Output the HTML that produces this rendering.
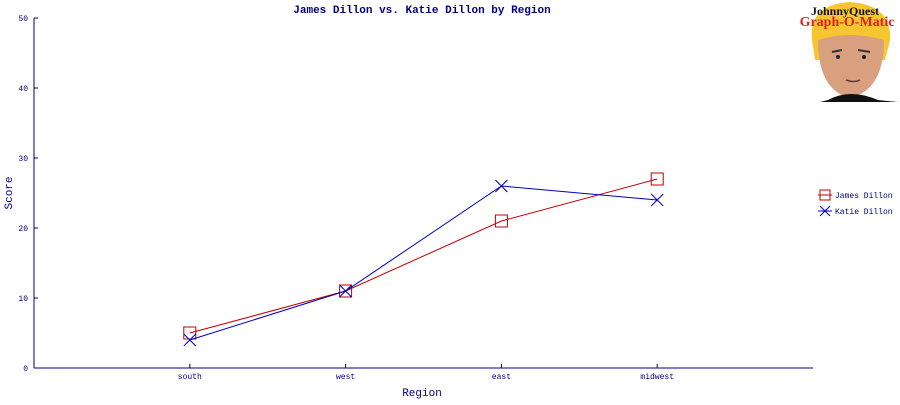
<!DOCTYPE html>
<html><head><meta charset="utf-8"><style>
body{margin:0;background:#fff;}
svg text{font-family:"Liberation Mono",monospace;}
</style></head><body>
<svg id="c" width="900" height="400" xmlns="http://www.w3.org/2000/svg">
<text x="422" y="13" text-anchor="middle" font-size="11" font-weight="bold" fill="#000080">James Dillon vs. Katie Dillon by Region</text>
<text x="12" y="193" text-anchor="middle" font-size="11" fill="#000080" transform="rotate(-90 12 193)">Score</text>
<text x="422" y="396" text-anchor="middle" font-size="11" fill="#000080">Region</text>
<g>
<rect x="800" y="0" width="100" height="102" fill="#fff"/>
<path d="M812 40 Q808 5 850 2 Q892 5 890 40 L885 60 L815 60 Z" fill="#f7c530"/>
<path d="M818 40 Q818 90 850 98 Q884 90 884 40 Q850 30 818 40 Z" fill="#d9a080"/>
<path d="M828 100 Q850 88 878 100 L898 102 L820 102 Z" fill="#111"/>
<path d="M832 52 l10 -2 M858 50 l12 2" stroke="#333" stroke-width="2"/>
<circle cx="838" cy="57" r="2" fill="#222"/><circle cx="864" cy="57" r="2" fill="#222"/>
<path d="M846 80 q8 3 14 0" stroke="#633" stroke-width="1.5" fill="none"/>
<text x="845" y="15" text-anchor="middle" style="font-family:'Liberation Serif',serif" font-size="12" font-weight="bold" fill="#111">JohnnyQuest</text>
<text x="847" y="26" text-anchor="middle" style="font-family:'Liberation Serif',serif" font-size="14" font-weight="bold" fill="#e02020">Graph-O-Matic</text>
</g>
<g id="axes"></g>
<g id="marks"></g>
<g>
<line x1="818" y1="195" x2="832" y2="195" stroke="#c00000"/>
<rect x="820" y="190" width="10" height="10" fill="none" stroke="#c00000"/>
<text x="835" y="198" font-size="8" fill="#000080">James Dillon</text>
<line x1="818" y1="211" x2="832" y2="211" stroke="#0000c0"/>
<path d="M820 206 l10 10 M830 206 l-10 10" stroke="#0000c0"/>
<text x="835" y="214" font-size="8" fill="#000080">Katie Dillon</text>
</g>
</svg>
<script>
const categories=["south","west","east","midwest"];
const james=[5,11,21,27];
const katie=[4,11,26,24];
const yTicks=[0,10,20,30,40,50];
const NS="http://www.w3.org/2000/svg";
const L=34,R=813,T=18,B=368;
const xs=i=>L+(R-L)/(categories.length+1)*(i+1);
const ys=v=>B-(B-T)*v/50;
function mk(t,a,p){const e=document.createElementNS(NS,t);for(const k in a)e.setAttribute(k,a[k]);p.appendChild(e);return e;}
const ax=document.getElementById('axes'),mg=document.getElementById('marks');
const yl=mk('line',{x1:L,y1:T,x2:L,y2:B,stroke:'#000080'},ax);


const xl=mk('line',{x1:L,y1:B,x2:R,y2:B,stroke:'#000080'},ax);


yTicks.forEach(v=>{const y=ys(v);
mk('line',{x1:L,y1:y,x2:L+4,y2:y,stroke:'#000080'},ax);
const t=mk('text',{x:L-6,y:y+3,'text-anchor':'end','font-size':8,fill:'#000080'},ax);t.textContent=v;

});
categories.forEach((c,i)=>{const x=xs(i);
mk('line',{x1:x,y1:B,x2:x,y2:B-4,stroke:'#000080'},ax);
const t=mk('text',{x:x,y:B+11,'text-anchor':'middle','font-size':8,fill:'#000080'},ax);t.textContent=c;

});
function series(vals,col,name,marker){
const pl=mk('polyline',{points:vals.map((v,i)=>xs(i)+','+ys(v)).join(' '),fill:'none',stroke:col},mg);


vals.forEach((v,i)=>{const x=xs(i),y=ys(v);let m;
if(marker==='sq')m=mk('rect',{x:x-6,y:y-6,width:12,height:12,fill:'none',stroke:col},mg);
else m=mk('path',{d:`M${x-6} ${y-6}L${x+6} ${y+6}M${x+6} ${y-6}L${x-6} ${y+6}`,stroke:col},mg);

});}
series(james,'#c00000','james-dillon','sq');
series(katie,'#0000c0','katie-dillon','x');
</script>
</body></html>
